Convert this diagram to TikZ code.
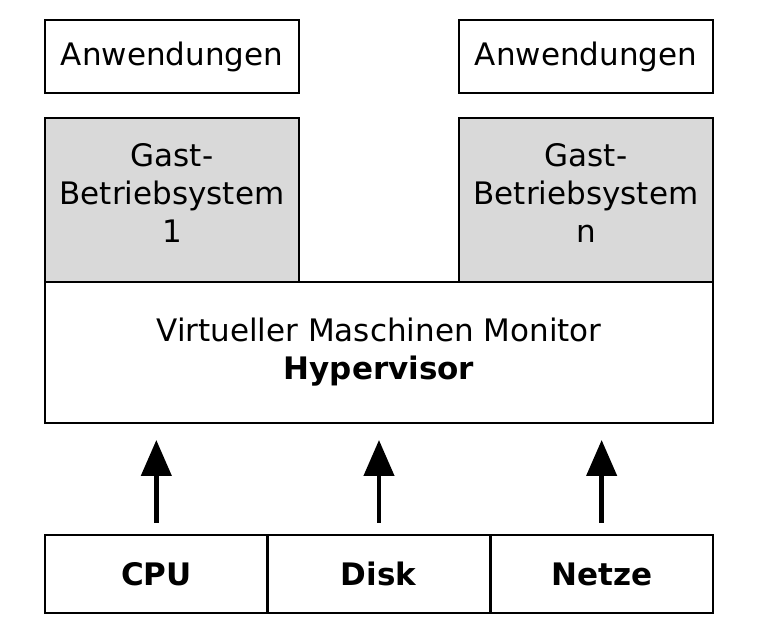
\documentclass[tikz,border=0pt]{standalone}
\usepackage{fontspec}
\setmainfont{DejaVu Sans}
\usepackage{xcolor}
\usepackage{tikz}
\usetikzlibrary{arrows,arrows.meta}
\usetikzlibrary{calc,positioning}
\tikzset{>=angle 90, node distance=0pt}

\begin{document}
\begin{tikzpicture}
	
	% Definitions.
	\tikzstyle{every node}=[
		font=\fontsize{15.5}{19}\selectfont,
		inner sep=0pt,
		outer sep=0pt
	]
	\tikzstyle{appbox}=[draw, line width=1.2pt, fill=white, minimum width=127pt, minimum height=36.5pt]
	\tikzstyle{gastbox}=[draw, line width=1.2pt, fill=gray!30, minimum width=127pt, minimum height=82pt]
	\tikzstyle{hwbox}=[draw, line width=1.2pt, minimum width=111.33pt, minimum height=39pt]
	\def\myarrow{Triangle[width=15pt,length=18pt]}
	\def\TextPadding{12.5pt}
	\def\ArrowGapBottom{6pt}
	\def\ArrowGapTop{8.5pt}
	
	% Canvas.
	\useasboundingbox (0,0) rectangle (383pt,-315pt);
	
	% ------------ Guest Side (left) -----------
	
	\node[appbox, anchor=north west] (app1) at (22.5pt,-10pt) {Anwendungen};
	\node[gastbox, below=12.5pt of app1] (gast1) {};
	\node[anchor=north, align=center] (gast1text) at ([yshift=-\TextPadding]gast1.north) {Gast-\\Betriebsystem\\1};
	
	% ------------ Hypervisor -----------
	
	\node[draw, line width=1.2pt, fill=white, minimum width=334pt, minimum height=70.5pt, align=center, anchor=north west] (hyp) at (gast1.south west) {Virtueller Maschinen Monitor\\\textbf{Hypervisor}};
	
	% ------------ Guest Side (right) -----------
	
	\node[gastbox, anchor=south east] (gast2) at (hyp.north east) {};
	\node[anchor=north, align=center] (gast2text) at ([yshift=-\TextPadding]gast2.north) {Gast-\\Betriebsystem\\n};
	\node[appbox, above=12.5pt of gast2] (app2) {Anwendungen};
	
	% ------------ Hardware -----------
	
	\node[hwbox, anchor=north west] (cpu) at ([yshift=-56pt]hyp.south west) {\textbf{CPU}};
	\node[hwbox, right=of cpu] (disk) {\textbf{Disk}};
	\node[hwbox, right=of disk] (net) {\textbf{Netze}};
	
	% Arrows.
	\draw[-{\myarrow}, line width=2.2pt, shorten <=\ArrowGapBottom, shorten >=\ArrowGapTop] (cpu.north) -- (cpu.north |- hyp.south);
	\draw[-{\myarrow}, line width=2.2pt, shorten <=\ArrowGapBottom, shorten >=\ArrowGapTop] (disk.north) -- (disk.north |- hyp.south);
	\draw[-{\myarrow}, line width=2.2pt, shorten <=\ArrowGapBottom, shorten >=\ArrowGapTop] (net.north) -- (net.north |- hyp.south);
	
\end{tikzpicture}
\end{document}
